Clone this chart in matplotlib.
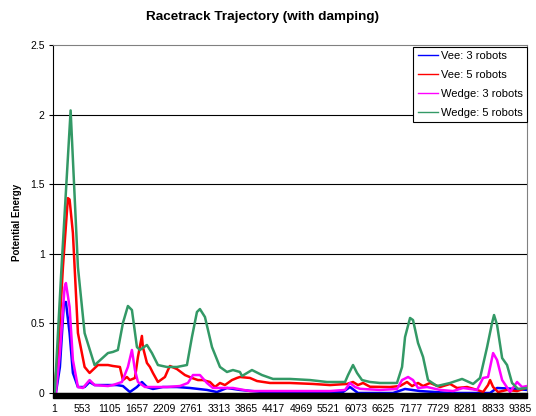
import matplotlib
matplotlib.use("Agg")
import matplotlib.pyplot as plt
from matplotlib.lines import Line2D
from matplotlib.patches import Rectangle

plt.rcParams['font.family'] = ['Liberation Sans', 'DejaVu Sans']

title = "Racetrack Trajectory (with damping)"
ylabel = "Potential Energy"
xtick_labels = [1, 553, 1105, 1657, 2209, 2761, 3313, 3865, 4417, 4969,
                5521, 6073, 6625, 7177, 7729, 8281, 8833, 9385]
ytick_values = [0, 0.5, 1, 1.5, 2, 2.5]
ytick_labels = ["0", "0.5", "1", "1.5", "2", "2.5"]

vee3_x = [1, 29, 110, 190, 231, 305, 372, 473, 608, 708, 809, 1078, 1259, 1380, 1520,
          1662, 1762, 1863, 1984, 2185, 2468, 2730, 3072, 3274, 3476, 3737, 4201, 5813,
          5955, 6115, 6821, 7063, 7365, 7970, 8776, 8917, 9320, 9520]
vee3_y = [0, 0.0, 0.187, 0.647, 0.654, 0.431, 0.144, 0.043, 0.043, 0.079, 0.057, 0.057,
          0.057, 0.05, 0.007, 0.043, 0.079, 0.043, 0.029, 0.043, 0.043, 0.036, 0.022,
          0.007, 0.036, 0.022, 0.007, 0.007, 0.043, 0.0, 0.0, 0.029, 0.014, 0.0, 0.0,
          0.036, 0.029, 0.022]

vee5_x = [1, 9, 69, 171, 271, 305, 372, 473, 608, 708, 876, 1078, 1178, 1319, 1380,
          1460, 1520, 1622, 1682, 1762, 1782, 1863, 1924, 1984, 2085, 2226, 2287, 2327,
          2468, 2629, 2770, 2891, 2991, 3133, 3234, 3335, 3435, 3576, 3677, 3737, 3939,
          4081, 4343, 4746, 5209, 5552, 5894, 6015, 6115, 6217, 6357, 6761, 6962, 7103,
          7204, 7325, 7426, 7567, 7768, 7970, 8111, 8313, 8514, 8635, 8735, 8776, 8837,
          8937, 9118, 9320, 9441, 9520]
vee5_y = [0, 0.07, 0.26, 0.905, 1.40, 1.39, 1.15, 0.431, 0.187, 0.144, 0.201, 0.201,
          0.194, 0.187, 0.093, 0.115, 0.093, 0.108, 0.259, 0.41, 0.33, 0.216, 0.187,
          0.144, 0.079, 0.115, 0.165, 0.194, 0.172, 0.129, 0.108, 0.093, 0.093, 0.079,
          0.043, 0.072, 0.057, 0.093, 0.108, 0.115, 0.108, 0.086, 0.072, 0.072, 0.065,
          0.057, 0.065, 0.079, 0.057, 0.072, 0.045, 0.043, 0.05, 0.079, 0.05, 0.072,
          0.05, 0.072, 0.043, 0.065, 0.036, 0.043, 0.022, 0.007, 0.057, 0.093, 0.043,
          0.007, 0.022, 0.014, 0.029, 0.043]

wedge3_x = [1, 29, 110, 205, 231, 305, 372, 473, 573, 708, 809, 1078, 1178, 1359, 1480,
            1561, 1622, 1682, 1823, 2266, 2528, 2689, 2791, 2931, 3072, 3193, 3335, 3596,
            3939, 4544, 5552, 5854, 5955, 6055, 6156, 6559, 6901, 7003, 7124, 7224, 7325,
            7507, 7768, 8030, 8232, 8514, 8635, 8735, 8837, 8917, 9019, 9179, 9320, 9421,
            9520]
wedge3_y = [0, 0.0, 0.287, 0.76, 0.79, 0.618, 0.237, 0.043, 0.036, 0.093, 0.057, 0.05,
            0.057, 0.079, 0.187, 0.309, 0.165, 0.079, 0.043, 0.043, 0.05, 0.072, 0.129,
            0.129, 0.072, 0.036, 0.036, 0.036, 0.014, 0.014, 0.014, 0.022, 0.072, 0.043,
            0.03, 0.022, 0.029, 0.093, 0.115, 0.093, 0.036, 0.043, 0.022, 0.014, 0.036,
            0.022, 0.108, 0.115, 0.287, 0.237, 0.093, 0.007, 0.079, 0.043, 0.05]

wedge5_x = [1, 9, 136, 326, 473, 608, 809, 1078, 1178, 1278, 1380, 1480, 1561, 1662,
            1722, 1863, 1964, 2085, 2266, 2468, 2669, 2770, 2871, 2931, 3032, 3174, 3335,
            3476, 3596, 3737, 3778, 3979, 4181, 4403, 4746, 5148, 5491, 5854, 5915, 6015,
            6096, 6196, 6357, 6559, 6901, 7003, 7063, 7164, 7224, 7325, 7426, 7526, 7708,
            7970, 8212, 8434, 8574, 8716, 8816, 8856, 8917, 9019, 9118, 9219, 9340, 9520]
wedge5_y = [0, 0.02, 0.86, 2.03, 0.905, 0.43, 0.20, 0.287, 0.295, 0.309, 0.503, 0.625,
            0.596, 0.33, 0.309, 0.345, 0.287, 0.201, 0.187, 0.187, 0.201, 0.402, 0.582,
            0.603, 0.546, 0.33, 0.187, 0.151, 0.165, 0.151, 0.122, 0.165, 0.129, 0.101,
            0.101, 0.093, 0.079, 0.079, 0.129, 0.201, 0.144, 0.093, 0.079, 0.072, 0.072,
            0.187, 0.402, 0.539, 0.524, 0.359, 0.259, 0.093, 0.05, 0.072, 0.101, 0.065,
            0.108, 0.33, 0.503, 0.56, 0.489, 0.251, 0.201, 0.072, 0.029, 0.036]

series = [
    ("Vee: 3 robots", vee3_x, vee3_y, "#0000FF"),
    ("Vee: 5 robots", vee5_x, vee5_y, "#FF0000"),
    ("Wedge: 3 robots", wedge3_x, wedge3_y, "#FF00FF"),
    ("Wedge: 5 robots", wedge5_x, wedge5_y, "#339966"),
]

fig = plt.figure(figsize=(5.36, 4.16), dpi=100)
ax = fig.add_axes([53/536, 1-393/416, (527-53)/536, (393-45)/416])

for label, xs, ys, c in series:
    ax.plot(xs, ys, color=c, lw=1.8, solid_joinstyle='round', solid_capstyle='round')

ax.set_xlim(-29, 9520)
ax.set_ylim(0, 2.5)
ax.set_yticks(ytick_values)
ax.set_yticklabels(ytick_labels)
ax.set_xticks(xtick_labels)
ax.set_xticklabels([str(v) for v in xtick_labels])
ax.tick_params(axis='x', length=0, pad=8, labelsize=7.5)
ax.tick_params(axis='y', length=3, width=0.8, pad=3, labelsize=7.5, direction='out')

for yv in ytick_values[1:-1]:
    ax.axhline(yv, color='black', lw=0.8, zorder=0)

ax.spines['top'].set_color('#808080')
ax.spines['right'].set_color('#808080')
ax.spines['left'].set_color('black')
ax.spines['bottom'].set_color('black')
for s in ax.spines.values():
    s.set_linewidth(0.8)

fig.patches.append(Rectangle((53/536, 1-398/416), (527-53)/536, 5/416,
                             transform=fig.transFigure, color='black', zorder=5))

handles = [Line2D([0], [0], color=c, lw=1) for _, _, _, c in series]
labels = [s[0] for s in series]
leg = ax.legend(handles, labels, loc='upper right', bbox_to_anchor=(1.0, 0.994),
                fontsize=8, frameon=True, fancybox=False, framealpha=1,
                edgecolor='black', handlelength=1.8, handletextpad=0.3,
                labelspacing=0.8, borderpad=0.38, borderaxespad=0)
leg.get_frame().set_linewidth(0.8)

fig.text(262/536, 1-17/416, title, ha='center', va='center', fontsize=9.7, fontweight='bold')
fig.text(17/536, 1-222/416, ylabel, ha='center', va='center', rotation=90,
         fontsize=7, fontweight='bold')

fig.savefig("out.png", dpi=100)
